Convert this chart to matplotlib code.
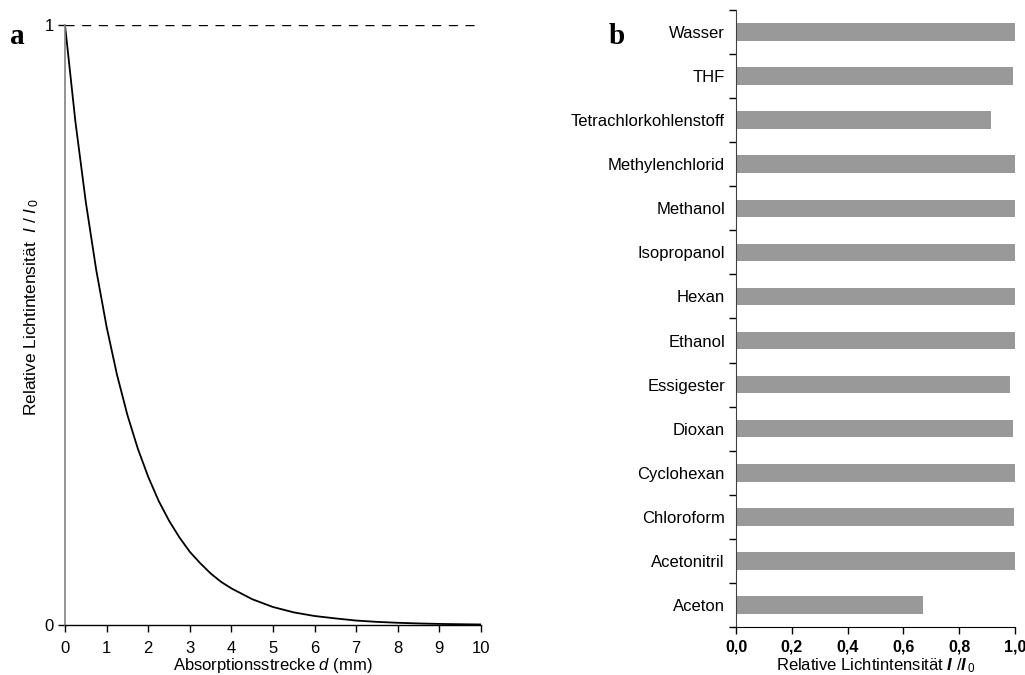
import numpy as np
import matplotlib.pyplot as plt
from matplotlib.ticker import FixedLocator

plt.rcParams['font.family'] = ['Liberation Sans', 'DejaVu Sans']
plt.rcParams['mathtext.fontset'] = 'custom'
plt.rcParams['mathtext.rm'] = 'Liberation Sans'
plt.rcParams['mathtext.it'] = 'Liberation Sans:italic'
plt.rcParams['mathtext.bf'] = 'Liberation Sans:bold'
plt.rcParams['mathtext.bfit'] = 'Liberation Sans:bold:italic'

# (a) transmitted intensity vs. path length
d_mm = [0, 0.25, 0.5, 0.75, 1.0, 1.25, 1.5, 1.75, 2.0, 2.25, 2.5, 2.75, 3.0,
        3.25, 3.5, 3.75, 4.0, 4.5, 5.0, 5.5, 6.0, 6.5, 7.0, 7.5, 8.0, 8.5,
        9.0, 9.5, 10.0]
rel_int = [1.000, 0.839, 0.705, 0.592, 0.497, 0.417, 0.350, 0.294, 0.247,
           0.207, 0.174, 0.146, 0.122, 0.103, 0.086, 0.072, 0.061, 0.043,
           0.030, 0.021, 0.015, 0.011, 0.0074, 0.0052, 0.0037, 0.0026,
           0.0018, 0.0013, 0.0009]

# (b) relative intensity per solvent (bottom to top)
solvents = ['Aceton', 'Acetonitril', 'Chloroform', 'Cyclohexan', 'Dioxan',
            'Essigester', 'Ethanol', 'Hexan', 'Isopropanol', 'Methanol',
            'Methylenchlorid', 'Tetrachlorkohlenstoff', 'THF', 'Wasser']
solvent_int = [0.670, 1.000, 0.996, 1.000, 0.993, 0.982, 1.000, 1.000,
               1.000, 1.000, 1.000, 0.914, 0.993, 1.000]

W, H = 1025, 675
fs = 12
fig = plt.figure(figsize=(W / 100, H / 100), dpi=100)

# ---- panel a ----
ax1 = fig.add_axes([65 / W, 1 - 625 / H, 416 / W, 600 / H])
ax1.plot(d_mm, rel_int, '-', color='black', lw=1.3)
ax1.plot([d_mm[0], d_mm[-1]], [1, 1], '--', color='black', lw=1.0,
         dashes=(6.5, 5.5))
ax1.set_xlim(0, 10)
ax1.set_ylim(0, 1)
ax1.set_xticks(range(0, 11))
ax1.set_yticks([0, 1])
ax1.tick_params(axis='both', direction='out', length=5, width=1,
                labelsize=fs, color='black', pad=3)
ax1.tick_params(axis='x', pad=6.5)
for s in ['top', 'right']:
    ax1.spines[s].set_visible(False)
ax1.spines['left'].set_color('#808080')
ax1.spines['left'].set_linewidth(1.2)
ax1.spines['bottom'].set_linewidth(1.0)
ax1.set_xlabel('Absorptionsstrecke $\\mathit{d}$ (mm)', fontsize=fs,
               labelpad=0)
ax1.set_ylabel('Relative Lichtintensität  $\\mathit{I}$ / $\\mathit{I}$$_{\\,0}$',
               fontsize=12.5, labelpad=0)
ax1.yaxis.set_label_coords(-0.057, 0.53)

# ---- panel b ----
ax2 = fig.add_axes([736 / W, 1 - 627 / H, 279 / W, 617 / H])
ypos = np.arange(len(solvents))
ax2.barh(ypos, solvent_int, height=0.4, color='#999999')
ax2.set_xlim(0, 1.0)
ax2.set_ylim(-0.5, len(solvents) - 0.5)
ax2.set_xticks(np.arange(0, 1.01, 0.2))
ax2.set_xticklabels([f'{v:.1f}'.replace('.', ',') for v in np.arange(0, 1.01, 0.2)],
                    fontweight='bold')
ax2.set_yticks(ypos)
ax2.set_yticklabels(solvents)
ax2.yaxis.set_minor_locator(FixedLocator(np.arange(-0.5, len(solvents), 1.0)))
ax2.tick_params(axis='y', which='major', length=0, labelsize=fs, pad=8)
ax2.tick_params(axis='y', which='minor', length=5, width=1, direction='out')
ax2.tick_params(axis='x', direction='out', length=5, width=1,
                labelsize=11.5, pad=4)
for s in ['top', 'right']:
    ax2.spines[s].set_visible(False)
ax2.spines['left'].set_color('#404040')
ax2.set_xlabel('Relative Lichtintensität $\\mathbfit{I}$ /$\\mathbfit{I}$$_{\\,0}$',
               fontsize=fs, labelpad=1)

# panel letters
fig.text(17 / W, 1 - 37 / H, 'a', family='Liberation Serif', fontweight='bold',
         fontsize=21, ha='center', va='center')
fig.text(617 / W, 1 - 37 / H, 'b', family='Liberation Serif', fontweight='bold',
         fontsize=21, ha='center', va='center')

fig.savefig('out.png', dpi=100)
